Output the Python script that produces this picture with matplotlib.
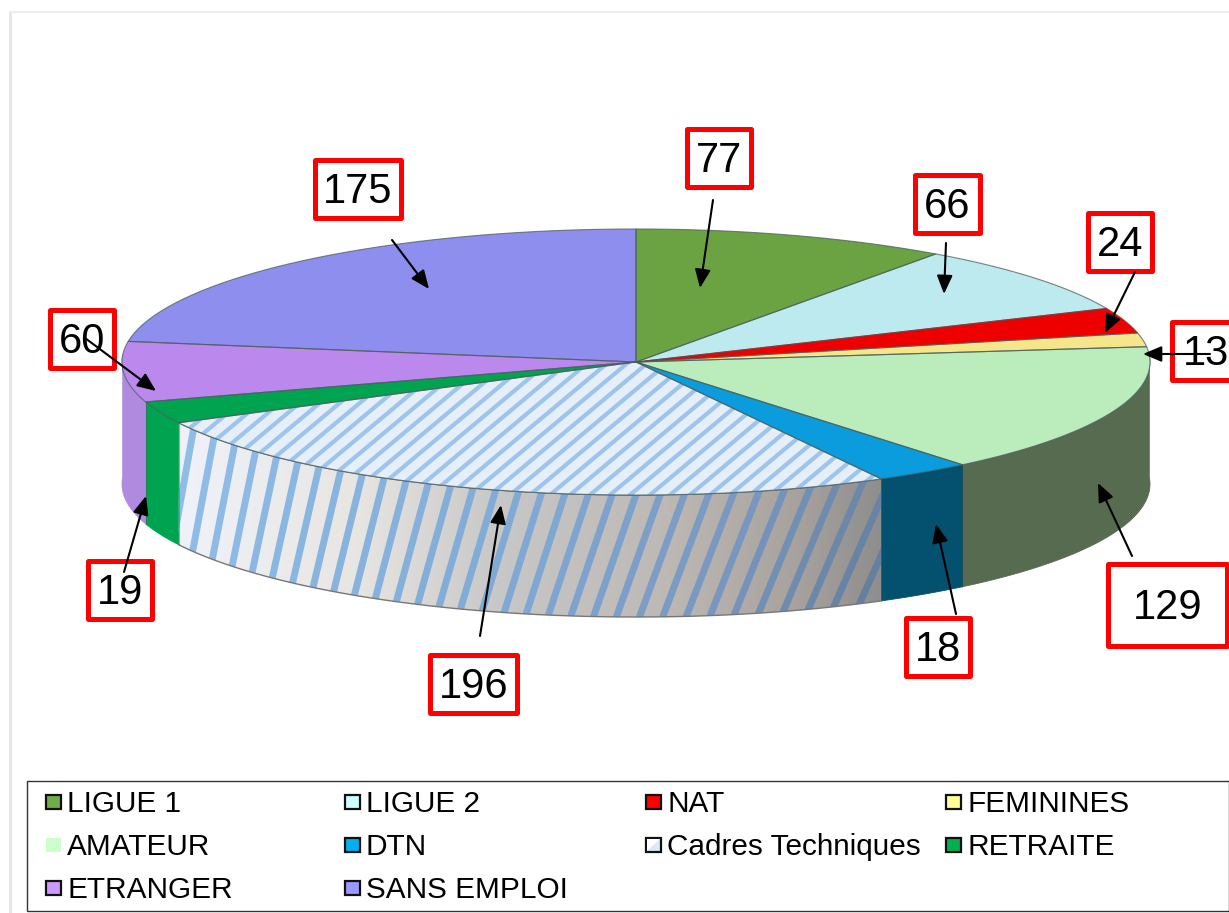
import numpy as np
import matplotlib
matplotlib.use("Agg")
import matplotlib.pyplot as plt
from matplotlib.patches import Polygon, Rectangle, FancyArrowPatch
from matplotlib.collections import LineCollection
from matplotlib.colors import LinearSegmentedColormap

plt.rcParams['font.family'] = ['Liberation Sans', 'DejaVu Sans']

categories = ["LIGUE 1", "LIGUE 2", "NAT", "FEMININES", "AMATEUR", "DTN",
              "Cadres Techniques", "RETRAITE", "ETRANGER", "SANS EMPLOI"]
values = [77, 66, 24, 13, 129, 18, 196, 19, 60, 175]
top_colors = ["#6CA342", "#BDEAEE", "#EE0000", "#F5E68C", "#BAECBC",
              "#0A9CDD", "#E6EEF8", "#00A34F", "#BB88EE", "#8E8EEE"]
wall_colors = ["#6FA544", "#BDEAEE", "#EE0000", "#F5E68C", "#566B50",
               "#04506F", "#E6EEF8", "#00A34F", "#B08ADF", "#8E8EEE"]
legend_colors = ["#70AD47", "#CCFFFF", "#FF0000", "#FFFF99", "#CCFFCC",
                 "#00B0F0", "#DDE8F8", "#00B050", "#CC99FF", "#9999FF"]
CADRES = 6
AMATEUR = 4

# (box left, top, right, bottom) and arrow (start, end), in picture pixels
box_rects = [(687, 129, 751, 187), (915, 175, 980, 233), (1088, 213, 1152, 271),
             (1172, 322, 1240, 380), (1108, 564, 1227, 646), (906, 618, 970, 676),
             (430, 655, 517, 713), (88, 561, 152, 619), (50, 310, 114, 368),
             (315, 160, 401, 218)]
arrows = [((713, 200), (700, 288)), ((946, 243), (944, 294)), ((1135, 272), (1105, 333)),
          ((1210, 354), (1143, 354)), ((1132, 556), (1098, 483)), ((956, 614), (936, 524)),
          ((480, 636), (501, 505)), ((124, 572), (146, 496)), ((85, 338), (156, 391)),
          ((392, 240), (429, 289))]

W, H = 1229, 913
CX, CY, RX, RY, DEPTH = 636, 362, 514, 133, 122

fig = plt.figure(figsize=(W / 100, H / 100), dpi=100, facecolor="white")
ax = fig.add_axes([0, 0, 1, 1])
ax.set_xlim(0, W)
ax.set_ylim(H, 0)
ax.axis("off")


def rim(a):
    """Angle in degrees clockwise from 12 o'clock -> point on top ellipse."""
    a = np.radians(a)
    return CX + RX * np.sin(a), CY - RY * np.cos(a)


# boundaries from the values; a few edges are nudged for the 3D projection
edges = 360 * np.cumsum([0] + values) / sum(values)
edges[AMATEUR + 1] -= 2.6
edges[CADRES + 1] += 0.5
edges[CADRES + 2] += 1.4

# walls (front half of the rim only)
for i in range(len(values)):
    a0, a1 = max(edges[i], 90 - 3), min(edges[i + 1], 270 + 3)
    if a1 <= a0:
        continue
    t = np.linspace(a0, a1, 100)
    x, y = rim(t)
    pts = np.r_[np.c_[x, y], np.c_[x[::-1], y[::-1] + DEPTH]]
    if i == CADRES:
        poly = Polygon(pts, closed=True, fc="none", ec="none", zorder=2)
        ax.add_patch(poly)
        cmap = LinearSegmentedColormap.from_list(
            "wall", [(0, "#EFF2F9"), (0.25, "#E8E6E2"), (0.45, "#C8C8C8"),
                     (0.7, "#BDB8B4"), (0.88, "#A8A29E"), (1, "#8E8E8E")])
        im = ax.imshow(np.linspace(0, 1, 256)[None, :], extent=(x.min(), x.max(), 640, 400),
                       aspect="auto", cmap=cmap, zorder=2)
        im.set_clip_path(poly)
        # stripes fan out: nearly upright at the left, more slanted at the right
        xs = []
        s = 170.0
        while s < 920:
            xs.append(s)
            s += 21 + 4 * (s - 170) / 710
        xs = np.array(xs)
        frac = (xs - 170) / 710
        slope = 0.18 + 0.27 * frac
        segs = [[(s, 560), (s + k * 140, 420)] for s, k in zip(xs, slope)]
        scm = LinearSegmentedColormap.from_list(
            "st", [(0, "#8FBDE8"), (0.5, "#7FA9D4"), (0.8, "#7896BE"), (1, "#65809E")])
        lc = LineCollection(segs, colors=scm(np.clip(frac, 0, 1)), linewidths=5.0, zorder=2.1)
        for seg_lc in [lc]:
            ax.add_collection(seg_lc)
            seg_lc.set_clip_path(poly)
        # extend stripes to the bottom of the wall
        segs2 = [[(s - k * 80, 640), (s + k * 140, 420)] for s, k in zip(xs, slope)]
        lc.set_segments(segs2)
        ax.plot(x, y + DEPTH, color="#777777", lw=1, zorder=2.2)
        ax.plot(x, y, color="#5A6E80", lw=1, zorder=2.2)
    else:
        ax.add_patch(Polygon(pts, closed=True, fc=wall_colors[i],
                             ec=wall_colors[i], lw=0.6, zorder=2))

# top faces
for i in range(len(values)):
    t = np.linspace(edges[i], edges[i + 1], 120)
    x, y = rim(t)
    pts = np.r_[[[CX, CY]], np.c_[x, y]]
    poly = Polygon(pts, closed=True, fc=top_colors[i], ec="none", zorder=3)
    ax.add_patch(poly)
    if i == CADRES:
        xs = np.arange(-200, 1100, 20)
        segs = [[(s, 520), (s + 215, 340)] for s in xs]
        lc = LineCollection(segs, colors="#9CC4EC", linewidths=3.0, zorder=3.1)
        ax.add_collection(lc)
        lc.set_clip_path(poly)
    edge_col = "#4A5E5A" if i != 2 else "#8A3030"
    ax.plot(np.r_[CX, x, CX], np.r_[CY, y, CY], color=edge_col, lw=0.8, alpha=0.75, zorder=3.2)

# wall vertical corners
for a in (edges[AMATEUR + 1], edges[AMATEUR + 2], edges[CADRES + 1], edges[CADRES + 2]):
    x, y = rim(a)
    ax.plot([x, x], [y, y + DEPTH], color="#404040", lw=0.5, alpha=0.5, zorder=2.3)

# data label boxes
for v, (l, t, r, b) in zip(values, box_rects):
    ax.add_patch(Rectangle((l, t), r - l, b - t, fc="white", ec="#FF0000", lw=3.6,
                           joinstyle="round", zorder=5, clip_on=True))
    ax.text((l + r) / 2, (t + b) / 2 + 3, str(v), fontsize=30, color="black",
            ha="center", va="center", zorder=6)

# arrows on top of everything
for start, end in arrows:
    ax.add_patch(FancyArrowPatch(start, end, arrowstyle="-|>,head_length=0.9,head_width=0.38",
                                 mutation_scale=12.5, color="black", lw=1.5,
                                 shrinkA=0, shrinkB=0, zorder=7))

# legend
ax.add_patch(Rectangle((27, 781), 1202, 130, fc="white", ec="#333333", lw=1, zorder=4))
col_x = [46, 345, 646, 946]
row_y = [802, 845, 888]
for i, (name, c) in enumerate(zip(categories, legend_colors)):
    sx, sy = col_x[i % 4], row_y[i // 4]
    no_edge = name == "AMATEUR"
    ax.add_patch(Rectangle((sx, sy - 7), 15, 14, fc=c, ec=c if no_edge else "#111111",
                           lw=0 if no_edge else 1.6, zorder=5))
    if i == CADRES:
        ax.add_patch(Polygon([(sx + 1, sy + 6), (sx + 14, sy - 6), (sx + 1, sy - 6)], closed=True,
                             fc="#FFFFFF", ec="none", zorder=5.1))
    ax.text(sx + 21, sy + 2, name, fontsize=21.4, color="black", ha="left", va="center", zorder=6)

# faint slide frame
ax.plot([10, 10], [12, 913], color="#E3E6EC", lw=2.2, zorder=1)
ax.plot([10, 1229], [12, 12], color="#EEEEEE", lw=1.5, zorder=1)

fig.savefig("out.png", dpi=100)
